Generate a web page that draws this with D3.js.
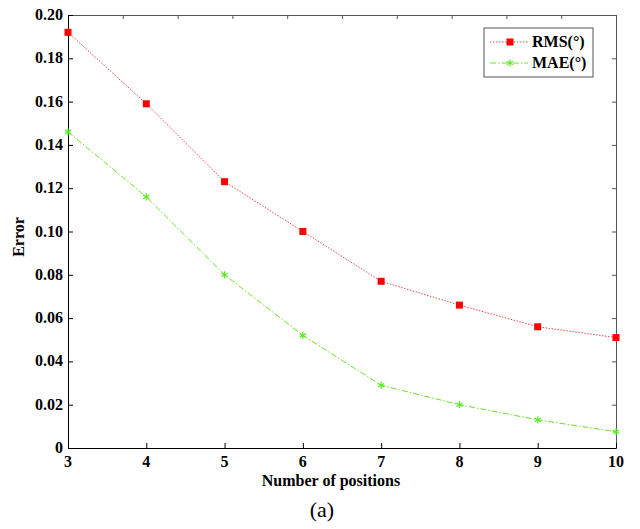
<!DOCTYPE html>
<html>
<head>
<meta charset="utf-8">
<script src="https://cdn.jsdelivr.net/npm/d3@7"></script>
<style>
  body { margin: 0; background: #fff; }
</style>
</head>
<body>
<svg id="chart" width="640" height="529"></svg>
<script>
var positions = [3, 4, 5, 6, 7, 8, 9, 10];
var rms = [0.192, 0.159, 0.123, 0.100, 0.077, 0.066, 0.056, 0.051];
var mae = [0.146, 0.116, 0.080, 0.052, 0.029, 0.020, 0.013, 0.0075];
var yTicks = [0, 0.02, 0.04, 0.06, 0.08, 0.10, 0.12, 0.14, 0.16, 0.18, 0.20];
var seriesNames = ["RMS(\u00b0)", "MAE(\u00b0)"];

var svg = d3.select("#chart");
var m = {left: 68, right: 616, top: 15, bottom: 448};
var serif = "'Liberation Serif', 'DejaVu Serif', 'Times New Roman', serif";

var x = d3.scaleLinear().domain([3, 10]).range([m.left, m.right]);
var y = d3.scaleLinear().domain([0, 0.2]).range([m.bottom, m.top]);

var fmt = function(d) { return d === 0 ? "0" : d3.format(".2f")(d); };

// top and right frame (grey, inward ticks)
var xTop = d3.scaleLinear().domain([0, 10]).range([m.left, m.right]);
svg.append("g")
    .attr("transform", "translate(0," + m.top + ")")
    .call(d3.axisBottom(xTop).ticks(10).tickSize(4).tickSizeOuter(0).tickFormat(""))
    .call(function(g) { g.selectAll("line, path").attr("stroke", "#555"); });
svg.append("g")
    .attr("transform", "translate(" + m.right + ",0)")
    .call(d3.axisLeft(y).tickValues(yTicks).tickSize(4).tickSizeOuter(0).tickFormat(""))
    .call(function(g) { g.selectAll("line, path").attr("stroke", "#555"); });

// bottom axis
var gx = svg.append("g")
    .attr("transform", "translate(0," + m.bottom + ")")
    .call(d3.axisTop(x).tickValues(positions).tickSize(5).tickSizeOuter(0).tickFormat(""));
gx.selectAll("line, path").attr("stroke", "#000");
svg.append("g").selectAll("text")
    .data(positions)
    .enter().append("text")
    .attr("x", function(d) { return x(d); })
    .attr("y", m.bottom + 19)
    .attr("text-anchor", "middle")
    .style("font-family", serif)
    .style("font-size", "16px")
    .style("font-weight", "bold")
    .text(function(d) { return d; });

// left axis
var gy = svg.append("g")
    .attr("transform", "translate(" + m.left + ",0)")
    .call(d3.axisRight(y).tickValues(yTicks).tickSize(5).tickSizeOuter(0).tickFormat(""));
gy.selectAll("line, path").attr("stroke", "#000");
svg.append("g").selectAll("text")
    .data(yTicks)
    .enter().append("text")
    .attr("x", m.left - 5)
    .attr("y", function(d) { return y(d) + 5; })
    .attr("text-anchor", "end")
    .style("font-family", serif)
    .style("font-size", "16px")
    .style("font-weight", "bold")
    .text(fmt);

// axis titles
svg.append("text")
    .attr("x", 331).attr("y", 486)
    .attr("text-anchor", "middle")
    .style("font-family", serif)
    .style("font-size", "16px").style("font-weight", "bold")
    .text("Number of positions");
svg.append("text")
    .attr("transform", "translate(24,237) rotate(-90)")
    .attr("text-anchor", "middle")
    .style("font-family", serif)
    .style("font-size", "16px").style("font-weight", "bold")
    .text("Error");
svg.append("text")
    .attr("x", 322).attr("y", 517)
    .attr("text-anchor", "middle")
    .style("font-family", serif)
    .style("font-size", "22px")
    .text("(a)");

// lines
var line = function(vals) {
    return d3.line()
        .x(function(d, i) { return x(positions[i]); })
        .y(function(d) { return y(d); })(vals);
};
svg.append("path")
    .attr("d", line(rms))
    .attr("fill", "none")
    .attr("stroke", "#e84848")
    .attr("stroke-width", 1)
    .attr("stroke-dasharray", "1.5,1.5");
svg.append("path")
    .attr("d", line(mae))
    .attr("fill", "none")
    .attr("stroke", "#6ee02a")
    .attr("stroke-width", 1)
    .attr("stroke-dasharray", "6,2,1.5,2");

// markers
svg.append("g").selectAll("rect")
    .data(rms)
    .enter().append("rect")
    .attr("x", function(d, i) { return x(positions[i]) - 3.5; })
    .attr("y", function(d) { return y(d) - 3.5; })
    .attr("width", 7).attr("height", 7)
    .attr("fill", "#ff0000");
var star = d3.symbol().type(d3.symbolAsterisk).size(36);
svg.append("g").selectAll("path")
    .data(mae)
    .enter().append("path")
    .attr("d", star)
    .attr("transform", function(d, i) { return "translate(" + x(positions[i]) + "," + y(d) + ")"; })
    .attr("fill", "none")
    .attr("stroke", "#55ee22")
    .attr("stroke-width", 1.2);

// legend
var lg = svg.append("g");
lg.append("rect")
    .attr("x", 484).attr("y", 28).attr("width", 109).attr("height", 49)
    .attr("fill", "#fff").attr("stroke", "#555");
lg.append("line").attr("x1", 490).attr("x2", 528).attr("y1", 42).attr("y2", 42)
    .attr("stroke", "#e84848").attr("stroke-dasharray", "1.5,1.5");
lg.append("rect").attr("x", 506.5).attr("y", 38.5).attr("width", 7).attr("height", 7).attr("fill", "#ff0000");
lg.append("line").attr("x1", 490).attr("x2", 528).attr("y1", 63).attr("y2", 63)
    .attr("stroke", "#6ee02a").attr("stroke-dasharray", "6,2,1.5,2");
lg.append("path").attr("d", star).attr("transform", "translate(510,63)")
    .attr("fill", "none").attr("stroke", "#55ee22").attr("stroke-width", 1.2);
lg.selectAll("text.leg")
    .data(seriesNames)
    .enter().append("text")
    .attr("class", "leg")
    .attr("x", 532)
    .attr("y", function(d, i) { return 47 + i * 21; })
    .style("font-family", serif)
    .style("font-size", "16px").style("font-weight", "bold")
    .text(function(d) { return d; });
</script>
</body>
</html>
